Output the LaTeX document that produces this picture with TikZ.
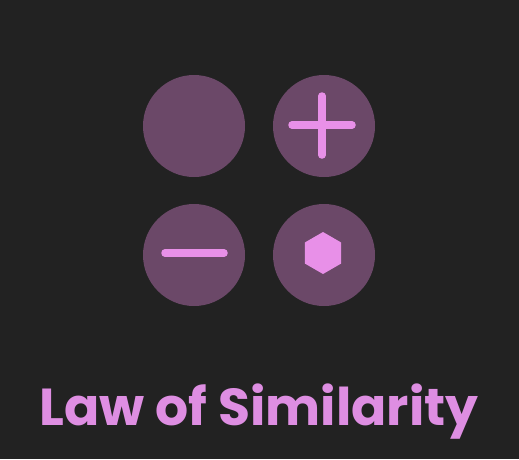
\documentclass[tikz,border=0pt]{standalone}
\usepackage{fontspec}
\setmainfont{Poppins}
\usetikzlibrary{shapes.geometric}
\definecolor{bg}{HTML}{222222}
\definecolor{disc}{HTML}{6B4868}
\definecolor{glyph}{HTML}{E890E8}
\definecolor{txt}{HTML}{DE8EE2}
\tikzset{
  dot/.style={circle, fill=disc, minimum size=102pt, inner sep=0pt},
  bar/.style={glyph, line width=7.5pt, line cap=round},
}
\begin{document}
\begin{tikzpicture}[x=1pt,y=-1pt]
\fill[bg] (0,0) rectangle (519,459);
\useasboundingbox (0,0) rectangle (519,459);
\node[dot] (tl) at (194,126) {};
\node[dot] (tr) at (324,126) {};
\node[dot] (bl) at (194,255) {};
\node[dot] (br) at (324,255) {};
\draw[bar] (322,96) -- (322,155);
\draw[bar] (292,125) -- (352,125);
\draw[bar] (165,253) -- (224,253);
\node[regular polygon, regular polygon sides=6, shape border rotate=30, fill=glyph, minimum size=42pt, inner sep=0pt] (hex) at (323,253) {};
\node[text=txt, font=\bfseries\fontsize{52}{56}\selectfont, anchor=base] (title) at (259,425) {Law of Similarity};
\end{tikzpicture}
\end{document}
